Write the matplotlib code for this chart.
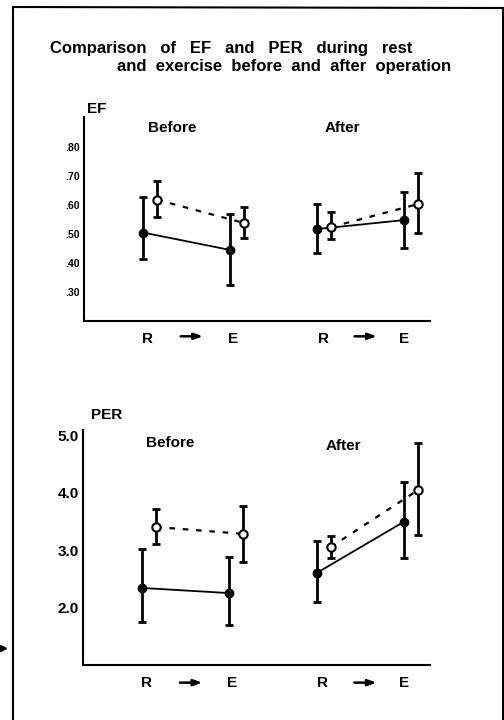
import matplotlib
matplotlib.use("Agg")
import matplotlib.pyplot as plt
from matplotlib.lines import Line2D

plt.rcParams.update({
    "font.family": ["Liberation Sans", "DejaVu Sans"],
    "font.weight": "bold",
    "axes.spines.top": False,
    "axes.spines.right": False,
})

# ---------------------------------------------------------------------------
# Data: [R, E] for each group
# ---------------------------------------------------------------------------
groups = ["Before", "After"]
phases = ["R", "E"]

# EF -- filled dots (solid line), open dots (dashed line)
ef_filled_mean = {"Before": [0.505, 0.445], "After": [0.517, 0.548]}
ef_filled_hi   = {"Before": [0.628, 0.569], "After": [0.603, 0.645]}
ef_filled_lo   = {"Before": [0.414, 0.324], "After": [0.434, 0.452]}
ef_open_mean   = {"Before": [0.618, 0.538], "After": [0.524, 0.603]}
ef_open_hi     = {"Before": [0.683, 0.593], "After": [0.576, 0.710]}
ef_open_lo     = {"Before": [0.559, 0.486], "After": [0.483, 0.503]}
ef_ticks = [0.30, 0.40, 0.50, 0.60, 0.70, 0.80]
ef_ticklabels = [".30", ".40", ".50", ".60", ".70", ".80"]

# PER
per_filled_mean = {"Before": [2.34, 2.25], "After": [2.60, 3.49]}
per_filled_hi   = {"Before": [3.02, 2.88], "After": [3.16, 4.18]}
per_filled_lo   = {"Before": [1.75, 1.70], "After": [2.10, 2.86]}
per_open_mean   = {"Before": [3.40, 3.28], "After": [3.05, 4.04]}
per_open_hi     = {"Before": [3.71, 3.77], "After": [3.24, 4.86]}
per_open_lo     = {"Before": [3.10, 2.80], "After": [2.86, 3.26]}
per_ticks = [2.0, 3.0, 4.0, 5.0]
per_ticklabels = ["2.0", "3.0", "4.0", "5.0"]

OPEN_SHIFT = 0.16   # open symbols sit just right of the filled ones


def panel(ax, fm, fhi, flo, om, ohi, olo):
    for gi, g in enumerate(groups):
        xs = [2 * gi, 2 * gi + 1]
        xo = [x + OPEN_SHIFT for x in xs]
        # filled series
        ax.errorbar(xs, fm[g],
                    yerr=[[m - l for m, l in zip(fm[g], flo[g])],
                          [h - m for m, h in zip(fm[g], fhi[g])]],
                    fmt="none", ecolor="black", elinewidth=2,
                    capsize=3, capthick=2, zorder=2)
        ax.plot(xs, fm[g], color="black", lw=1.3, marker="o", ms=6,
                mfc="black", mec="black", zorder=3)
        # open series
        ax.errorbar(xo, om[g],
                    yerr=[[m - l for m, l in zip(om[g], olo[g])],
                          [h - m for m, h in zip(om[g], ohi[g])]],
                    fmt="none", ecolor="black", elinewidth=2,
                    capsize=3, capthick=2, zorder=2)
        ax.plot(xo, om[g], color="black", lw=1.6, ls=(0, (2.5, 3.5)),
                marker="o", ms=6, mfc="white", mec="black", mew=1.5,
                zorder=4)
    ax.set_xlim(-0.68, 3.30)
    ax.set_xticks([0.05, 1.03, 2.07, 3.0])
    ax.set_xticklabels(["R", "E", "R", "E"], fontsize=11, fontweight="bold")
    ax.tick_params(axis="x", length=0, pad=8)
    ax.tick_params(axis="y", length=0, pad=3)
    for s in ["left", "bottom"]:
        ax.spines[s].set_linewidth(1.5)
    # R -> E arrows
    for gi in range(2):
        ax.annotate("", xy=(2 * gi + 0.72, -0.075), xytext=(2 * gi + 0.40, -0.075),
                    xycoords=("data", "axes fraction"),
                    arrowprops=dict(arrowstyle="-|>,head_length=0.5,head_width=0.18",
                                    color="black", lw=1.8))


W, H = 504, 720
fig = plt.figure(figsize=(5.04, 7.2), dpi=100)

# EF panel
ef_top = 117
ax1 = fig.add_axes([84 / W, 1 - 321 / H, 346 / W, (321 - ef_top) / H])
panel(ax1, ef_filled_mean, ef_filled_hi, ef_filled_lo,
      ef_open_mean, ef_open_hi, ef_open_lo)
ax1.set_ylim(0.20, 0.2 + (321 - ef_top) / 290)
ax1.set_yticks(ef_ticks)
ax1.set_yticklabels(ef_ticklabels, fontsize=7.5, fontweight="bold")

# PER panel
per_top = 430
ax2 = fig.add_axes([83 / W, 1 - 665 / H, 347 / W, (665 - per_top) / H])
panel(ax2, per_filled_mean, per_filled_hi, per_filled_lo,
      per_open_mean, per_open_hi, per_open_lo)
ax2.set_ylim(1.0, 1.0 + (665 - per_top) / 57.5)
ax2.set_yticks(per_ticks)
ax2.set_yticklabels(per_ticklabels, fontsize=11, fontweight="bold")

# labels
def label(x, y, s, size=11, ha="center"):
    fig.text(x / W, 1 - y / H, s, fontsize=size, fontweight="bold",
             va="center", ha=ha)

label(50, 48, "Comparison   of   EF   and   PER   during   rest", size=12, ha="left")
label(117, 67, "and  exercise  before  and  after  operation", size=12, ha="left")
label(87, 109, "EF", ha="left")
label(172, 128, "Before")
label(342, 128, "After")
label(107, 415, "PER")
label(170, 443, "Before")
label(343, 446, "After")

# page frame
frame = dict(color="black", lw=1.5, transform=fig.transFigure)
fig.add_artist(Line2D([13 / W, 13 / W], [0, 1 - 7 / H], **frame))
fig.add_artist(Line2D([13 / W, 503 / W], [1 - 7 / H, 1 - 8 / H], **frame))
fig.add_artist(Line2D([503 / W, 503 / W], [0, 1 - 8 / H], **frame))
fig.add_artist(Line2D([3 / W], [1 - 648 / H], marker=">", ms=4, color="black",
                      transform=fig.transFigure))

fig.savefig("out.png", dpi=100)
